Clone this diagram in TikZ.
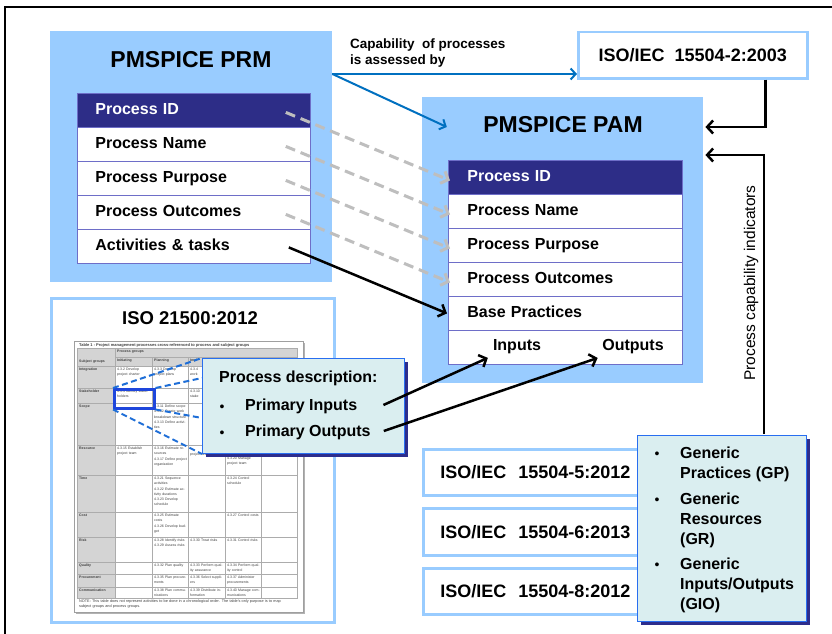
\documentclass[tikz,border=0pt]{standalone}
\usepackage{fontspec}
\setmainfont{Liberation Sans}
\usetikzlibrary{arrows.meta,calc,shadows}
\definecolor{lb}{RGB}{153,204,255}
\definecolor{navy}{RGB}{45,45,135}
\definecolor{rowline}{RGB}{110,110,200}
\definecolor{cfill}{RGB}{218,238,240}
\definecolor{cborder}{RGB}{40,110,240}
\definecolor{cshadow}{RGB}{45,45,140}
\definecolor{arrblue}{RGB}{0,112,192}
\definecolor{dgrey}{RGB}{190,190,190}
\definecolor{tblue}{RGB}{30,110,215}
\definecolor{hlblue}{RGB}{30,70,220}
\definecolor{tgrey}{RGB}{212,212,212}
\newcommand\fTitle{\fontsize{23}{27}\selectfont\bfseries}
\newcommand\fRow{\fontsize{16}{19}\selectfont\bfseries}
\newcommand\fIso{\fontsize{18}{21}\selectfont\bfseries}
\newcommand\fCap{\fontsize{13.5}{16}\selectfont\bfseries}
\newcommand\fPci{\fontsize{15.5}{18}\selectfont}
\newcommand\fCell{\fontsize{3.5}{5.2}\selectfont}
\newcommand\fTT{\fontsize{4}{5}\selectfont\bfseries}
\newcommand\fNote{\fontsize{3.8}{5.2}\selectfont}
\newcommand\tcell[4]{\node[tc] (#1) at (#2,#3) {#4};}
\newcommand\tcellb[4]{\node[tc,font=\fCell\bfseries] (#1) at (#2,#3) {#4};}
\begin{document}
\begin{tikzpicture}[x=1pt,y=-1pt,
  lbbox/.style={fill=lb,draw=none,anchor=north west,inner sep=0pt},
  rowbox/.style={draw=rowline,line width=0.8pt,fill=white,anchor=north west,minimum height=34pt,
     inner ysep=0pt,align=left,text height=12pt,text depth=3.5pt,font=\fRow},
  prmrow/.style={rowbox,inner xsep=18pt,text width=197pt},
  pamrow/.style={rowbox,inner xsep=19pt,text width=196pt},
  isobox/.style={draw=lb,line width=2.5pt,fill=white,anchor=north west,inner sep=0pt,font=\fIso},
  isoleft/.style={isobox,align=left,text width=246pt,inner xsep=17pt,minimum height=46pt},
  calloutbox/.style={fill=cfill,draw=cborder,line width=1pt,anchor=north west,inner sep=0pt,
     general shadow={fill=cshadow,shadow xshift=3pt,shadow yshift=-3pt}},
  txt/.style={inner sep=0pt,font=\fRow},
  bul/.style={inner sep=0pt,font=\fontsize{14}{16}\selectfont,anchor=base},
  tc/.style={anchor=north west,inner sep=0pt,font=\fCell,text width=33pt,align=left,text=black!75},
  tline/.style={draw=gray!65,line width=0.4pt},
  bluearr/.style={draw=arrblue,line width=2pt,-{Straight Barb[length=5pt,width=11pt]}},
  blackarr/.style={draw=black,line width=2.5pt,-{Straight Barb[length=6pt,width=13pt]}},
  greydash/.style={draw=dgrey,line width=3pt,dash pattern=on 10pt off 6pt,-{Straight Barb[length=6pt,width=13pt]}},
  bluedash/.style={draw=tblue,line width=2pt,dash pattern=on 6pt off 3.5pt}
]
\useasboundingbox (0,0) rectangle (832,634);
\fill[white] (0,0) rectangle (832,634);
% frame
\draw[line width=2.4pt] (5,650) -- (5,7) -- (850,7);

% PRM
\node[lbbox,minimum width=282pt,minimum height=251pt] (prm) at (50,31) {};
\node[font=\fTitle] (prmt) at (191,60) {PMSPICE PRM};
\node[prmrow,fill=navy,text=white] (prm1) at (77,93) {Process ID};
\node[prmrow] (prm2) at (77,127) {Process Name};
\node[prmrow] (prm3) at (77,161) {Process Purpose};
\node[prmrow] (prm4) at (77,195) {Process Outcomes};
\node[prmrow] (prm5) at (77,229) {Activities \& tasks};

% ISO 21500 box
\node[isobox,minimum width=283pt,minimum height=324pt] (iso21) at (50,297) {};
\node[font=\fontsize{18.5}{22}\selectfont\bfseries] (iso21t) at (190,318) {ISO 21500:2012};
% table picture
\fill[gray!60] (75.5,342.5) rectangle (305,614);
\node[draw=gray!75,line width=0.6pt,fill=white,anchor=north west,minimum width=229pt,minimum height=271pt,inner sep=0pt] (tbl) at (74,341) {};
\fill[tgrey] (77,348) rectangle (115,598);
\fill[tgrey] (115,348) rectangle (297,366);
\draw[tline] (77,348) rectangle (297,598);
\foreach \yy in {366,388,403,445,475,512,537,562,574,587} \draw[tline] (77,\yy) -- (297,\yy);
\draw[tline] (115,357) -- (297,357);
\draw[tline] (115,348) -- (115,598);
\foreach \xx in {152,188,225,261} \draw[tline] (\xx,357) -- (\xx,598);
\node[anchor=north west,inner sep=0pt,font=\fTT,text=black!75] (ttitle) at (79,343) {Table 1 - Project management processes cross-referenced to process and subject groups};
\tcellb{hpg}{117}{349.5}{Process groups}
\tcellb{hsg}{79}{360}{Subject groups}
\tcellb{hin}{117}{359}{Initiating}
\tcellb{hpl}{154}{359}{Planning}
\node[tc,font=\fCell\bfseries,text width=11pt] (him) at (190,359) {Impl};
% Integration
\tcellb{sg1}{79}{368}{Integration}
\tcell{a1}{117}{368}{4.3.2 Develop project charter}
\tcell{a2}{154}{368}{4.3.3 Develop project plans}
\node[tc,text width=11pt] (a3) at (190,368) {4.3.4\\work};
% Stakeholder
\tcellb{sg2}{79}{390}{Stakeholder}
\tcell{b1}{117}{390}{4.3.9 Identify stakeholders}
\node[tc,text width=11pt] (b3) at (190,390) {4.3.10\\stake};
% Scope
\tcellb{sg3}{79}{405}{Scope}
\tcell{c2}{154}{405}{4.3.11 Define scope\\4.3.12 Create work breakdown structure\\4.3.13 Define activities}
% Resource
\tcellb{sg4}{79}{447}{Resource}
\tcell{d1}{117}{447}{4.3.15 Establish project team}
\tcell{d2}{154}{447}{4.3.16 Estimate resources\\4.3.17 Define project organization}
\node[tc] (d3) at (190,452.5) {project team};
\node[tc] (d4) at (227,452.5) {resources\\4.3.20 Manage project team};
% Time
\tcellb{sg5}{79}{477}{Time}
\tcell{e2}{154}{477}{4.3.21 Sequence activities\\4.3.22 Estimate activity durations\\4.3.23 Develop schedule}
\tcell{e4}{227}{477}{4.3.24 Control schedule}
% Cost
\tcellb{sg6}{79}{514}{Cost}
\tcell{f2}{154}{514}{4.3.25 Estimate costs\\4.3.26 Develop budget}
\tcell{f4}{227}{514}{4.3.27 Control costs}
% Risk
\tcellb{sg7}{79}{539}{Risk}
\tcell{g2}{154}{539}{4.3.28 Identify risks\\4.3.29 Assess risks}
\tcell{g3}{190}{539}{4.3.30 Treat risks}
\tcell{g4}{227}{539}{4.3.31 Control risks}
% Quality
\tcellb{sg8}{79}{564}{Quality}
\tcell{h2}{154}{564}{4.3.32 Plan quality}
\tcell{h3}{190}{564}{4.3.33 Perform quality assurance}
\tcell{h4}{227}{564}{4.3.34 Perform quality control}
% Procurement
\tcellb{sg9}{79}{576}{Procurement}
\tcell{i2}{154}{576}{4.3.35 Plan procurements}
\tcell{i3}{190}{576}{4.3.36 Select suppliers}
\tcell{i4}{227}{576}{4.3.37 Administer procurements}
% Communication
\tcellb{sg10}{79}{589}{Communication}
\tcell{j2}{154}{589}{4.3.38 Plan communications}
\tcell{j3}{190}{589}{4.3.39 Distribute information}
\tcell{j4}{227}{589}{4.3.40 Manage communications}
\node[anchor=north west,inner sep=0pt,font=\fNote,text width=210pt,align=left,text=black!75] (tnote) at (79,599.5) {NOTE: This table does not represent activities to be done in a chronological order. The table's only purpose is to map subject groups and process groups.};
% highlight
\node[draw=hlblue,line width=2.5pt,anchor=north west,minimum width=40pt,minimum height=19pt,inner sep=0pt] (hl) at (113,388) {};
% callout
\node[calloutbox,minimum width=202pt,minimum height=95pt] (pd) at (202,358) {};
\draw[bluedash] (hl.north west) -- (pd.north west);
\draw[bluedash] (hl.north east) -- ($(pd.north west)+(0,20)$);
\draw[bluedash] (hl.south east) -- ($(pd.south west)+(0,-36)$);
\draw[bluedash] (hl.south west) -- (pd.south west);
\node[txt,anchor=west] (pdt) at (219,378) {Process description:};
\node[bul] (pb1) at (222,411) {•};
\node[bul] (pb2) at (222,437) {•};
\node[txt,anchor=west] (pin) at (245,406) {Primary Inputs};
\node[txt,anchor=west] (pout) at (245,432) {Primary Outputs};

% PAM
\node[lbbox,minimum width=281pt,minimum height=286pt] (pam) at (422,97) {};
\node[font=\fTitle] (pamt) at (563,125) {PMSPICE PAM};
\node[pamrow,fill=navy,text=white] (pam1) at (448,160) {Process ID};
\node[pamrow] (pam2) at (448,194) {Process Name};
\node[pamrow] (pam3) at (448,228) {Process Purpose};
\node[pamrow] (pam4) at (448,262) {Process Outcomes};
\node[pamrow] (pam5) at (448,296) {Base Practices};
\node[pamrow] (pam6) at (448,330) {};
\node[txt] (inp) at (517,347) {Inputs};
\node[txt] (outp) at (633,347) {Outputs};

% ISO 15504-2
\node[isobox,minimum width=229pt,minimum height=46pt] (iso2) at (577,31) {ISO/IEC\ \ 15504-2:2003};
\node[anchor=north west,align=left,inner sep=0pt,font=\fCap] (cap) at (350,39) {Capability\ \ of processes\\is assessed by};

% ISO 15504-5/6/8
\node[isoleft] (iso5) at (422,448) {ISO/IEC\ \ 15504-5:2012};
\node[isoleft,minimum height=47pt] (iso6) at (422,507) {ISO/IEC\ \ 15504-6:2013};
\node[isoleft] (iso8) at (422,567) {ISO/IEC\ \ 15504-8:2012};

% Generic box
\node[calloutbox,minimum width=169pt,minimum height=186pt] (gen) at (637,435) {};
\node[bul] (gb1) at (657,458) {•};
\node[bul] (gb2) at (657,504) {•};
\node[bul] (gb3) at (657,569) {•};
\node[anchor=north west,inner sep=0pt,align=left,font=\fontsize{16}{20}\selectfont\bfseries] (g1) at (680,446.5) {Generic\\Practices (GP)};
\node[anchor=north west,inner sep=0pt,align=left,font=\fontsize{16}{20}\selectfont\bfseries] (g2) at (680,492.5) {Generic\\Resources\\(GR)};
\node[anchor=north west,inner sep=0pt,align=left,font=\fontsize{16}{20}\selectfont\bfseries] (g3) at (680,557.5) {Generic\\Inputs/Outputs\\(GIO)};

% connectors
\coordinate (bs) at ($(prm.north east)+(0,43)$);
\draw[bluearr] (bs) -- (bs -| iso2.west);
\draw[bluearr] (bs) -- ($(pamt.west)+(-33,2)$);
\draw[blackarr] ($(iso2.south east)+(-43,0)$) |- ($(pam.north east)+(2,30)$);
\draw[blackarr] ($(gen.north east)+(-43,-1)$) |- ($(pam.north east)+(2,58)$);
\node[rotate=90,font=\fPci] (pci) at (751,283) {Process capability indicators};
\foreach \a/\b in {prm1/pam1,prm2/pam2,prm3/pam3,prm4/pam4}
  \draw[greydash] ($(\a.east)+(-25,2)$) -- ($(\b.west)+(2,3)$);
\draw[blackarr] ($(prm5.east)+(-22,1)$) -- ($(pam5.west)+(-1,0)$);
\draw[blackarr] ($(pin.east)+(26,-1)$) -- ($(inp.south west)+(-5,3.5)$);
\draw[blackarr] ($(pout.east)+(13,-1)$) -- ($(outp.south west)+(-4.5,3.5)$);
\end{tikzpicture}
\end{document}
